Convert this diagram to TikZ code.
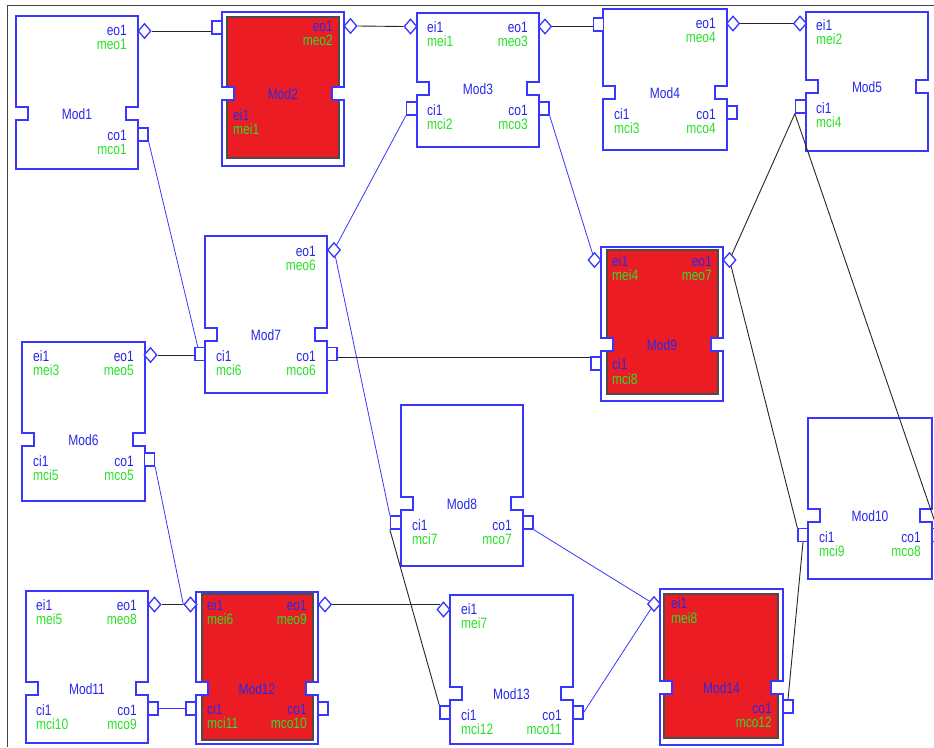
\documentclass[tikz,border=0pt]{standalone}
\usepackage{fontspec}
\setmainfont{Liberation Sans}
\newfontfamily\labfont[FakeStretch=0.8]{Liberation Sans}
\usetikzlibrary{shapes.geometric,calc}
\definecolor{mblue}{RGB}{55,55,255}
\definecolor{tblue}{RGB}{40,40,235}
\definecolor{mgreen}{RGB}{40,225,40}
\definecolor{mred}{RGB}{236,28,36}
\definecolor{framec}{RGB}{70,70,70}
\pgfdeclarelayer{bg}
\pgfdeclarelayer{wires}
\pgfsetlayers{bg,wires,main}
\tikzset{
 modline/.style={draw=mblue, line width=1.4pt, line join=miter},
 lb/.style={text=tblue, font=\labfont\fontsize{15}{14}\selectfont, inner sep=0pt},
 mlb/.style={text=mgreen, font=\labfont\fontsize{15}{14}\selectfont, inner sep=0pt},
 dport/.style={diamond, draw=mblue, fill=white, line width=1.3pt, minimum width=13pt, minimum height=15pt, inner sep=0pt},
 sport/.style={rectangle, draw=mblue, fill=white, line width=1.3pt, minimum width=10pt, minimum height=13pt, inner sep=0pt},
 bwire/.style={draw=mblue, line width=0.8pt},
 kwire/.style={draw=black!85, line width=0.9pt},
 framel/.style={draw=framec, line width=1.2pt},
 redbody/.style={fill=mred, draw=black!70, line width=1.2pt},
}
\newcommand\plainmod[5]{\draw[modline] (#1,#2) -- (#3,#2) -- (#3,#5) -- ++(-12,0) -- ++(0,13) -- ++(12,0) -- (#3,#4) -- (#1,#4) -- (#1,#5+13) -- ++(12,0) -- ++(0,-13) -- ++(-12,0) -- cycle;}
\newcommand\redmod[9]{%
 \path[redbody] (#6,#7) rectangle (#8,#9);
 \fill[white] (#1,#5) rectangle (#1+12,#5+13);
 \fill[white] (#3-12,#5) rectangle (#3,#5+13);
 \plainmod{#1}{#2}{#3}{#4}{#5}}
\begin{document}
\begin{tikzpicture}[x=1pt,y=-1pt]
\useasboundingbox (0,0) rectangle (934,747);
\begin{pgfonlayer}{bg}
\fill[white] (0,0) rectangle (934,747);
\draw[framel] (7.5,747) -- (7.5,5.5) -- (934,5.5);
\plainmod{16}{16}{138}{169}{107}
\redmod{222}{12}{344}{166}{87}{227}{17}{339}{158}
\plainmod{417}{13}{539}{147}{82}
\plainmod{603}{9}{727}{150}{86}
\plainmod{806}{12}{928}{151}{80}
\plainmod{22}{342}{145}{501}{433}
\plainmod{205}{236}{327}{393}{328}
\plainmod{401}{405}{523}{566}{497}
\redmod{601}{247}{723}{401}{338}{607}{250}{718}{394}
\plainmod{808}{418}{932}{579}{509}
\plainmod{26}{591}{148}{743}{682}
\redmod{196}{592}{318}{744}{682}{202}{594}{313}{740}
\plainmod{450}{595}{573}{744}{687}
\redmod{660}{589}{783}{745}{681}{664}{594}{778}{738}
\end{pgfonlayer}
% ports
\node[dport] (p1eo) at (144.5,31) {};
\node[sport] (p1co) at (143,134.5) {};
\node[sport] (p2ei) at (217,27.5) {};
\node[dport] (p2eo) at (350.5,26) {};
\node[dport] (p3ei) at (410.5,26.5) {};
\node[dport] (p3eo) at (545,26.5) {};
\node[sport] (p3ci) at (411.5,108.5) {};
\node[sport] (p3co) at (544,108.5) {};
\node[sport] (p4ei) at (598.5,24.5) {};
\node[dport] (p4eo) at (733,23.5) {};
\node[sport] (p4co) at (732,112.5) {};
\node[dport] (p5ei) at (800,23.5) {};
\node[sport] (p5ci) at (800.5,106.5) {};
\node[dport] (p6eo) at (150.5,355) {};
\node[sport] (p6co) at (149.5,459.5) {};
\node[dport] (p7eo) at (334,250) {};
\node[sport] (p7ci) at (200,354) {};
\node[sport] (p7co) at (332,354) {};
\node[sport] (p8ci) at (395.5,522.5) {};
\node[sport] (p8co) at (528,522.5) {};
\node[dport] (p9ei) at (594.5,260) {};
\node[dport] (p9eo) at (729.5,260) {};
\node[sport] (p9ci) at (596,363.5) {};
\node[sport] (p10ci) at (803,535) {};
\node[sport] (p10co) at (937,535) {};
\node[dport] (p11eo) at (154.5,604.5) {};
\node[sport] (p11co) at (153,708.5) {};
\node[dport] (p12ei) at (190.5,604.5) {};
\node[dport] (p12eo) at (325,604.5) {};
\node[sport] (p12ci) at (191,708.5) {};
\node[sport] (p12co) at (323,708.5) {};
\node[dport] (p13ei) at (443.5,609.5) {};
\node[sport] (p13ci) at (445,712.5) {};
\node[sport] (p13co) at (578,712.5) {};
\node[dport] (p14ei) at (654,604) {};
\node[sport] (p14co) at (788,706.5) {};
% wires
\begin{pgfonlayer}{wires}
\draw[kwire] (p1eo.east) -- (p1eo.east -| p2ei.west);
\draw[kwire] (p2eo.east) -- (p3ei.west);
\draw[kwire] (p3eo.east) -- (p3eo.east -| p4ei.west);
\draw[kwire] (p4eo.east) -- (p5ei.west);
\draw[bwire] (p1co.south east) -- ($(p7ci.north west)!0.3!(p7ci.north east)$);
\draw[bwire] (p3ci.south west) -- (p7eo);
\draw[bwire] (p3co.south east) -- (p9ei);
\draw[kwire] ($(p7co.east)!0.5!(p7co.south east)$) coordinate (w8) -- (w8 -| p9ci.west);
\draw[kwire] (p6eo.east) -- (p6eo.east -| p7ci.west);
\draw[kwire] (p5ci.south west) -- (p9eo);
\draw[kwire] (p5ci.south west) -- (p10co.north);
\draw[kwire] (p9eo) -- (p10ci.north west);
\draw[kwire] (p10ci.south) -- (p14co.north);
\draw[bwire] (p7eo) -- (p8ci.north west);
\draw[kwire] (p8ci.south west) -- (p13ci.north west);
\draw[bwire] (p8co.south east) -- (p14ei);
\draw[bwire] (p13co.east) -- (p14ei);
\draw[bwire] (p6co.south east) -- (p12ei.west);
\draw[kwire] (p11eo.east) -- (p12ei.west);
\draw[bwire] (p11co.east) -- (p12ci.west);
\draw[kwire] (p12eo.east) -- (p12eo.east -| p13ei.north west);
\end{pgfonlayer}
% Mod1
\node[lb,anchor=east] (t1eo) at (127,30.5) {eo1};
\node[mlb,anchor=east] (t1meo) at (127,44.5) {meo1};
\node[lb] (t1n) at (77,114.5) {Mod1};
\node[lb,anchor=east] (t1co) at (127,135) {co1};
\node[mlb,anchor=east] (t1mco) at (127,149) {mco1};
% Mod2
\node[lb,anchor=east] (t2eo) at (333,26) {eo1};
\node[mlb,anchor=east] (t2meo) at (333,40) {meo2};
\node[lb] (t2n) at (283,94.5) {Mod2};
\node[lb,anchor=west] (t2ei) at (233,115) {ei1};
\node[mlb,anchor=west] (t2mei) at (233,129) {mei1};
% Mod3
\node[lb,anchor=west] (t3ei) at (427,27.5) {ei1};
\node[mlb,anchor=west] (t3mei) at (427,41.5) {mei1};
\node[lb,anchor=east] (t3eo) at (528,27.5) {eo1};
\node[mlb,anchor=east] (t3meo) at (528,41.5) {meo3};
\node[lb] (t3n) at (478,89.5) {Mod3};
\node[lb,anchor=west] (t3ci) at (427,110) {ci1};
\node[mlb,anchor=west] (t3mci) at (427,124) {mci2};
\node[lb,anchor=east] (t3co) at (528,110) {co1};
\node[mlb,anchor=east] (t3mco) at (528,124) {mco3};
% Mod4
\node[lb,anchor=east] (t4eo) at (716,23.5) {eo1};
\node[mlb,anchor=east] (t4meo) at (716,37.5) {meo4};
\node[lb] (t4n) at (665,93.5) {Mod4};
\node[lb,anchor=west] (t4ci) at (614,114) {ci1};
\node[mlb,anchor=west] (t4mci) at (614,128) {mci3};
\node[lb,anchor=east] (t4co) at (716,114) {co1};
\node[mlb,anchor=east] (t4mco) at (716,128) {mco4};
% Mod5
\node[lb,anchor=west] (t5ei) at (816,25) {ei1};
\node[mlb,anchor=west] (t5mei) at (816,39) {mei2};
\node[lb] (t5n) at (867,87.5) {Mod5};
\node[lb,anchor=west] (t5ci) at (816,108) {ci1};
\node[mlb,anchor=west] (t5mci) at (816,122) {mci4};
% Mod6
\node[lb,anchor=west] (t6ei) at (33,356) {ei1};
\node[mlb,anchor=west] (t6mei) at (33,370) {mei3};
\node[lb,anchor=east] (t6eo) at (134,356) {eo1};
\node[mlb,anchor=east] (t6meo) at (134,370) {meo5};
\node[lb] (t6n) at (83.5,440.5) {Mod6};
\node[lb,anchor=west] (t6ci) at (33,461) {ci1};
\node[mlb,anchor=west] (t6mci) at (33,475) {mci5};
\node[lb,anchor=east] (t6co) at (134,461) {co1};
\node[mlb,anchor=east] (t6mco) at (134,475) {mco5};
% Mod7
\node[lb,anchor=east] (t7eo) at (316,251) {eo1};
\node[mlb,anchor=east] (t7meo) at (316,265) {meo6};
\node[lb] (t7n) at (266,335.5) {Mod7};
\node[lb,anchor=west] (t7ci) at (216,356) {ci1};
\node[mlb,anchor=west] (t7mci) at (216,370) {mci6};
\node[lb,anchor=east] (t7co) at (316,356) {co1};
\node[mlb,anchor=east] (t7mco) at (316,370) {mco6};
% Mod8
\node[lb] (t8n) at (462,504.5) {Mod8};
\node[lb,anchor=west] (t8ci) at (412,525) {ci1};
\node[mlb,anchor=west] (t8mci) at (412,539) {mci7};
\node[lb,anchor=east] (t8co) at (512,525) {co1};
\node[mlb,anchor=east] (t8mco) at (512,539) {mco7};
% Mod9
\node[lb,anchor=west] (t9ei) at (612,261) {ei1};
\node[mlb,anchor=west] (t9mei) at (612,275.5) {mei4};
\node[lb,anchor=east] (t9eo) at (712,261) {eo1};
\node[mlb,anchor=east] (t9meo) at (712,275.5) {meo7};
\node[lb] (t9n) at (662,345.5) {Mod9};
\node[lb,anchor=west] (t9ci) at (612,364) {ci1};
\node[mlb,anchor=west] (t9mci) at (612,379) {mci8};
% Mod10
\node[lb] (t10n) at (870,516.5) {Mod10};
\node[lb,anchor=west] (t10ci) at (819,537) {ci1};
\node[mlb,anchor=west] (t10mci) at (819,551) {mci9};
\node[lb,anchor=east] (t10co) at (921,537) {co1};
\node[mlb,anchor=east] (t10mco) at (921,551) {mco8};
% Mod11
\node[lb,anchor=west] (t11ei) at (36,605) {ei1};
\node[mlb,anchor=west] (t11mei) at (36,619.5) {mei5};
\node[lb,anchor=east] (t11eo) at (137,605) {eo1};
\node[mlb,anchor=east] (t11meo) at (137,619.5) {meo8};
\node[lb] (t11n) at (87,689.5) {Mod11};
\node[lb,anchor=west] (t11ci) at (36,710) {ci1};
\node[mlb,anchor=west] (t11mci) at (36,724) {mci10};
\node[lb,anchor=east] (t11co) at (137,710) {co1};
\node[mlb,anchor=east] (t11mco) at (137,724) {mco9};
% Mod12
\node[lb,anchor=west] (t12ei) at (207,605) {ei1};
\node[mlb,anchor=west] (t12mei) at (207,619.5) {mei6};
\node[lb,anchor=east] (t12eo) at (307,605) {eo1};
\node[mlb,anchor=east] (t12meo) at (307,619.5) {meo9};
\node[lb] (t12n) at (257,689) {Mod12};
\node[lb,anchor=west] (t12ci) at (207,709) {ci1};
\node[mlb,anchor=west] (t12mci) at (207,723.5) {mci11};
\node[lb,anchor=east] (t12co) at (307,709) {co1};
\node[mlb,anchor=east] (t12mco) at (307,723.5) {mco10};
% Mod13
\node[lb,anchor=west] (t13ei) at (461,609.5) {ei1};
\node[mlb,anchor=west] (t13mei) at (461,623.5) {mei7};
\node[lb] (t13n) at (511.5,694.5) {Mod13};
\node[lb,anchor=west] (t13ci) at (461,715) {ci1};
\node[mlb,anchor=west] (t13mci) at (461,729) {mci12};
\node[lb,anchor=east] (t13co) at (562,715) {co1};
\node[mlb,anchor=east] (t13mco) at (562,729) {mco11};
% Mod14
\node[lb,anchor=west] (t14ei) at (671,603.5) {ei1};
\node[mlb,anchor=west] (t14mei) at (671,618) {mei8};
\node[lb] (t14n) at (721.5,688.5) {Mod14};
\node[lb,anchor=east] (t14co) at (772,708) {co1};
\node[mlb,anchor=east] (t14mco) at (772,722.5) {mco12};
\end{tikzpicture}
\end{document}
